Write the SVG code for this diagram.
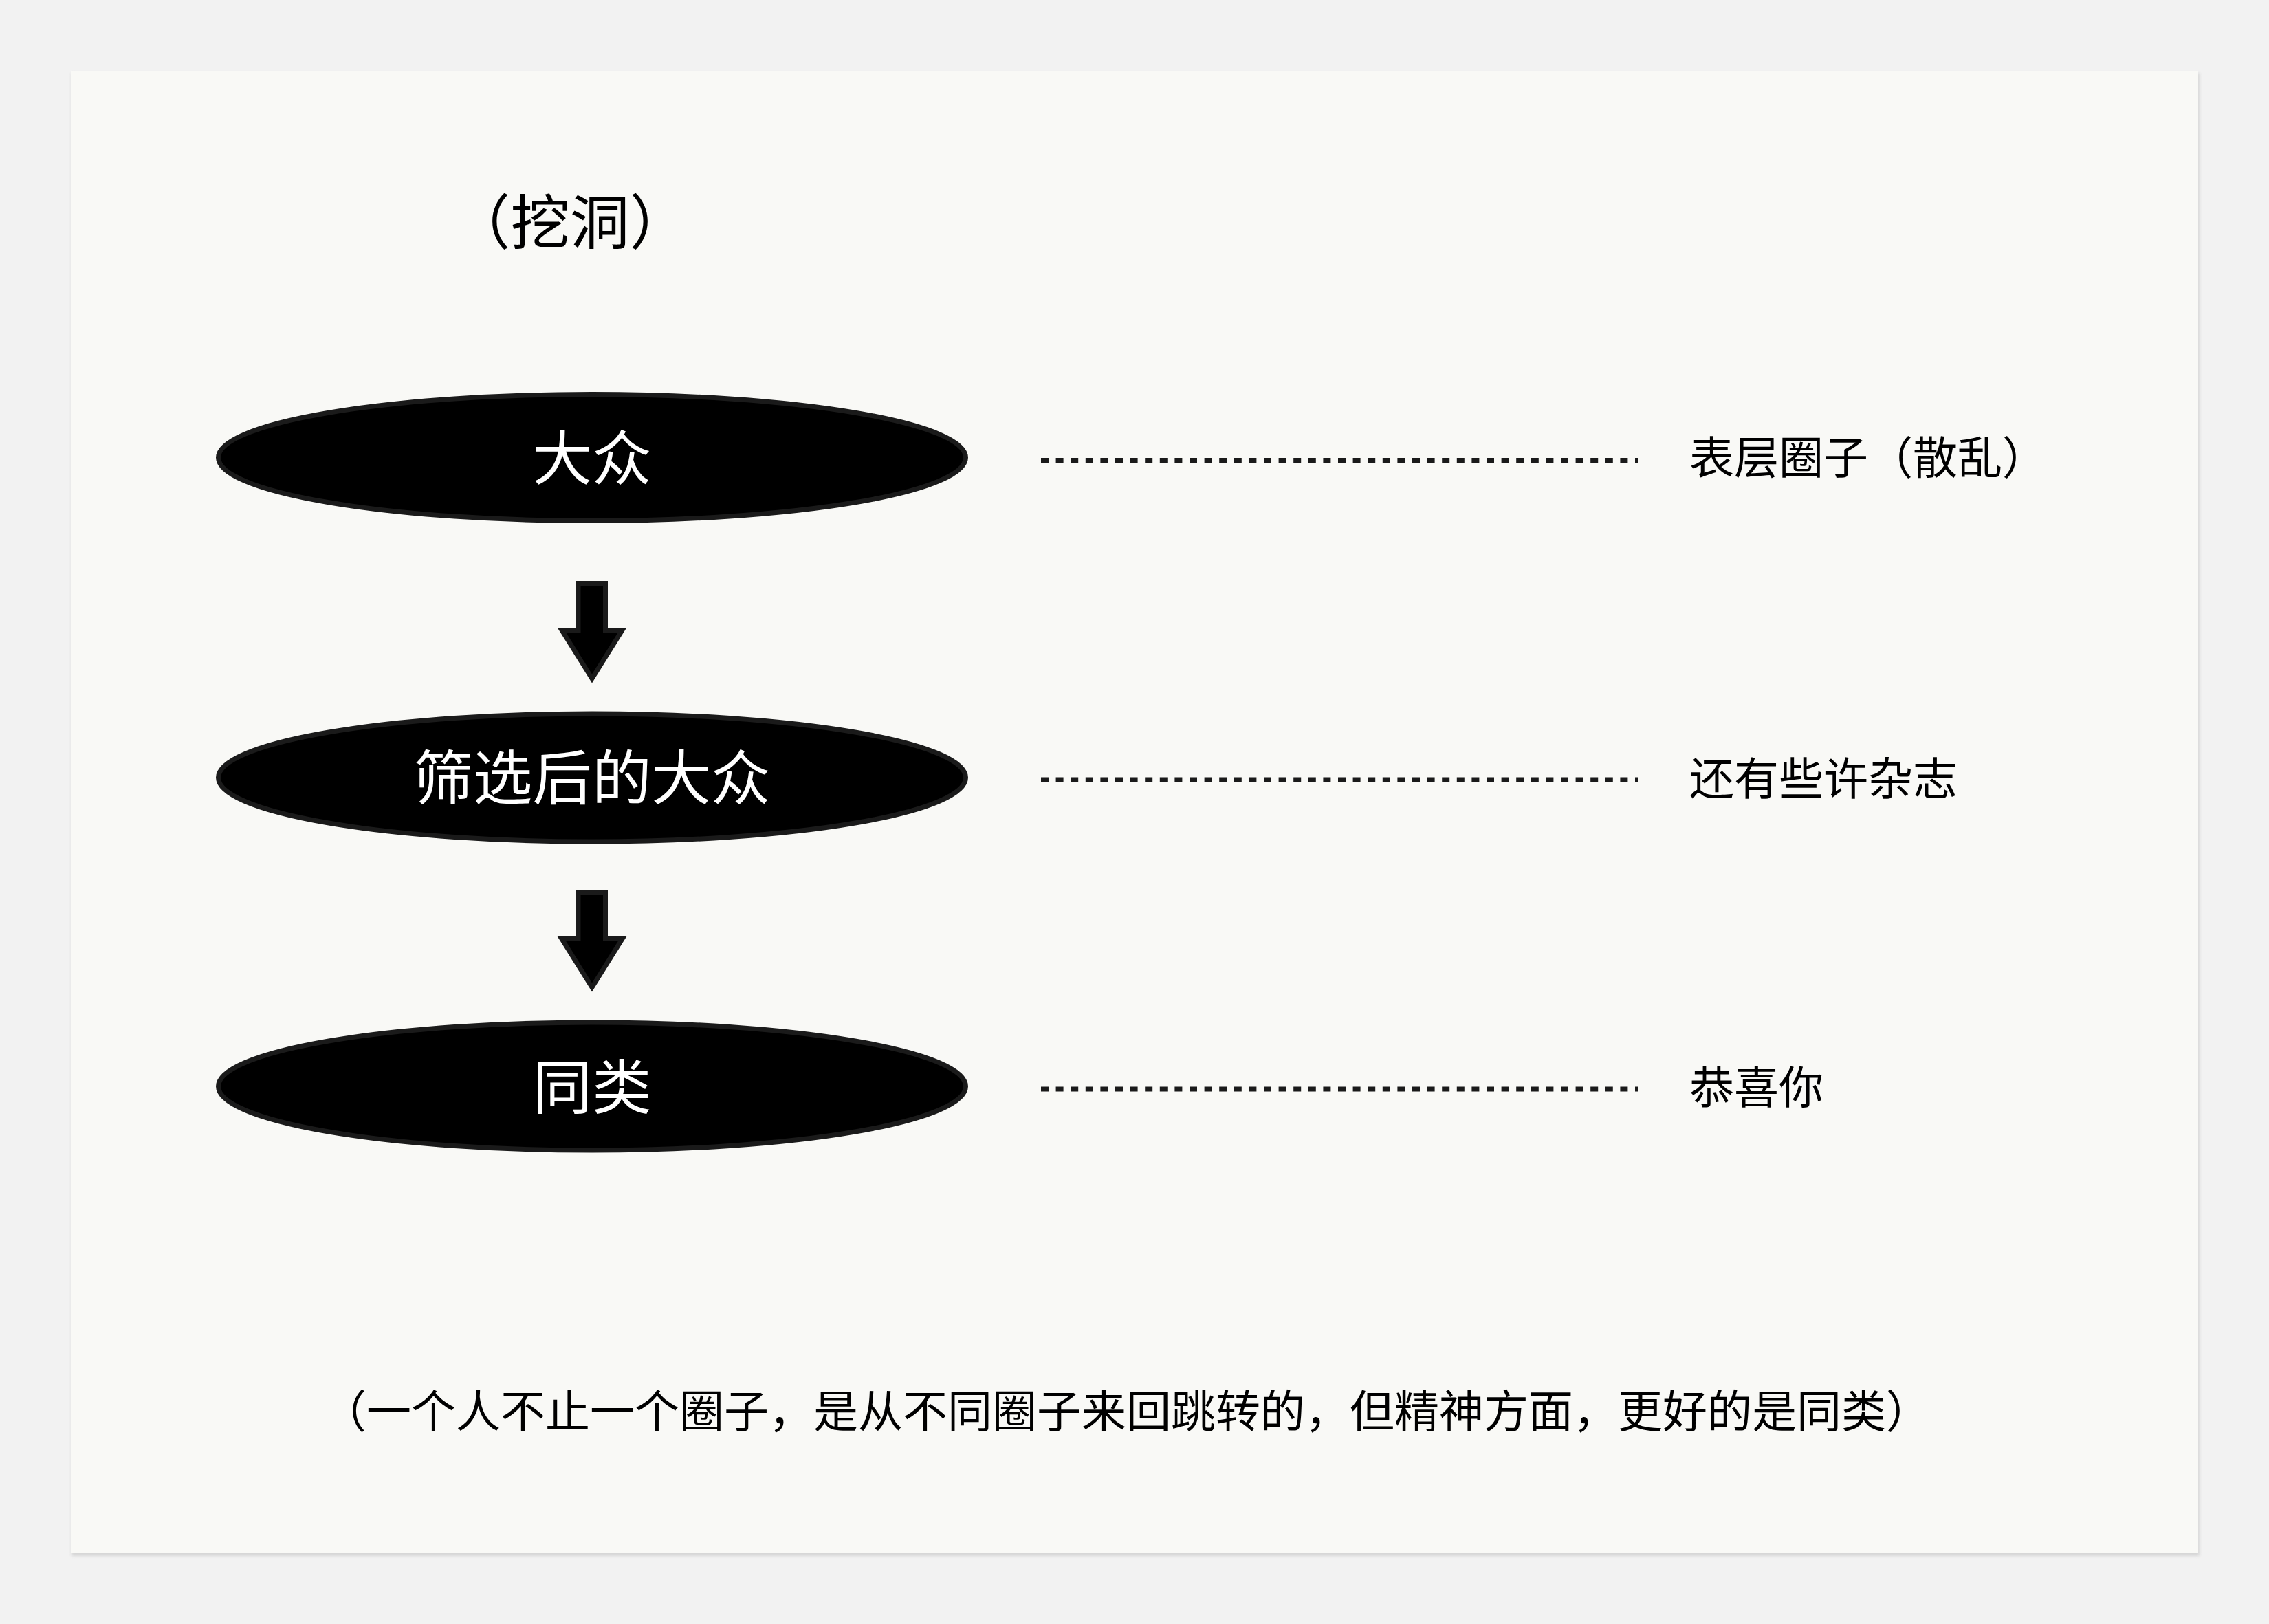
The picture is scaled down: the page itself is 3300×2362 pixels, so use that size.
<svg xmlns="http://www.w3.org/2000/svg" width="3300" height="2362" viewBox="0 0 3300 2362">
  <defs>
    <style>
      .cjk { font-family: "Noto Sans CJK SC", "Noto Sans", sans-serif; }
      .big { font-size: 86.5px; }
      .small { font-size: 65px; }
      .dark { fill: #000000; }
      .light { fill: #ffffff; }
      .node { fill: #000000; stroke: #1a1a1a; stroke-width: 7; }
      .arrow { fill: #000000; stroke: #1a1a1a; stroke-width: 7; stroke-linejoin: miter; }
      .dots { stroke: #1a1a1a; stroke-width: 7; stroke-dasharray: 11 10.6; fill: none; }
    </style>
    <filter id="shadow" x="-2%" y="-2%" width="104%" height="104%">
      <feGaussianBlur stdDeviation="2"/>
    </filter>
    <path id="arrowShape" d="M841,848.5 H880.5 V916.5 H905 L861,987 L817,916.5 H841 Z"/>
  </defs>

  <rect x="0" y="0" width="3300" height="2362" fill="#f2f2f2"/>
  <rect x="104" y="106" width="3095" height="2157" fill="#d6d6d6" filter="url(#shadow)"/>
  <rect x="103" y="103" width="3094" height="2156" fill="#f9f9f6"/>

  <g id="title">
    <text class="cjk big dark" x="656" y="355">（挖洞）</text>
  </g>

  <g id="connectors">
    <use href="#arrowShape" class="arrow"/>
    <use href="#arrowShape" class="arrow" transform="translate(0,449)"/>
    <line class="dots" x1="1514" y1="669.5" x2="2382" y2="669.5"/>
    <line class="dots" x1="1514" y1="1134" x2="2382" y2="1134"/>
    <line class="dots" x1="1514" y1="1584" x2="2382" y2="1584"/>
  </g>

  <g id="node-dazhong">
    <ellipse class="node" cx="861" cy="665.5" rx="543.5" ry="92"/>
    <text class="cjk big light" x="861" y="698" text-anchor="middle">大众</text>
  </g>

  <g id="node-shaixuan">
    <ellipse class="node" cx="861" cy="1131" rx="543.5" ry="93"/>
    <text class="cjk big light" x="861" y="1163" text-anchor="middle">筛选后的大众</text>
  </g>

  <g id="node-tonglei">
    <ellipse class="node" cx="861" cy="1580" rx="543.5" ry="93"/>
    <text class="cjk big light" x="861" y="1613" text-anchor="middle">同类</text>
  </g>

  <g id="label-biaoceng">
    <text class="cjk small dark" x="2457" y="689">表层圈子（散乱）</text>
  </g>

  <g id="label-haiyou">
    <text class="cjk small dark" x="2457" y="1156">还有些许杂志</text>
  </g>

  <g id="label-gongxi">
    <text class="cjk small dark" x="2457" y="1605">恭喜你</text>
  </g>

  <g id="footnote">
    <text class="cjk small dark" x="468" y="2076">（一个人不止一个圈子，是从不同圈子来回跳转的，但精神方面，更好的是同类）</text>
  </g>
</svg>
